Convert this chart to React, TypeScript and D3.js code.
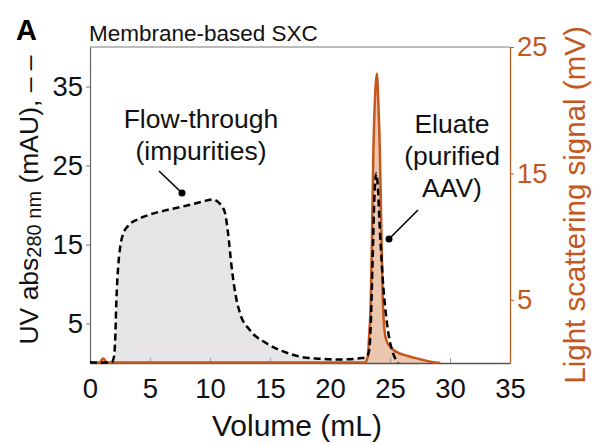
import { useEffect, useRef } from 'react';
import * as d3 from 'd3';

// UV absorbance at 280 nm (mAU), left axis
const uvVolume = [0, 1.0, 1.8, 2.0, 2.1, 2.2, 2.35, 2.5, 2.75, 3.2, 4, 5, 6.5, 8, 9.3, 10.2, 10.8, 11.25, 11.5, 11.8, 12.1, 12.5, 13.3, 14.7, 16.4, 17.5, 19, 21, 22.5, 23.0, 23.25, 23.4, 23.55, 23.7, 23.85, 24.0, 24.15, 24.3, 24.45, 24.6, 24.75, 24.95, 25.2, 25.5, 25.7];
const uvValue = [0.1, 0.05, 0.1, 0.8, 3, 8, 12.2, 14.5, 16.3, 17.4, 18.2, 18.8, 19.4, 19.9, 20.4, 20.7, 20.2, 19, 16.5, 12.2, 8.9, 6.3, 4.2, 2.5, 1.3, 0.8, 0.55, 0.45, 0.6, 0.7, 1.5, 5, 13, 21, 24, 22, 17, 13, 9.5, 7, 5, 3, 1.5, 0.4, 0];

// light scattering signal (mV), right axis
const lsVolume = [0.6, 0.8, 1.1, 1.4, 1.7, 5, 10, 15, 20, 22.9, 23.15, 23.25, 23.4, 23.5, 23.6, 23.75, 23.9, 24.05, 24.15, 24.25, 24.4, 24.55, 24.7, 25.0, 25.5, 26.5, 27.5, 28.5, 29.2];
const lsValue = [0.03, 0.05, 0.35, 0.05, 0.03, 0.03, 0.03, 0.03, 0.03, 0.03, 0.5, 2, 5, 10, 16, 21, 22.9, 20, 17, 12, 5, 2.5, 1.8, 1.3, 0.9, 0.55, 0.3, 0.08, 0];

const xTicks = [0, 5, 10, 15, 20, 25, 30, 35];
const uvTicks = [5, 15, 25, 35];
const lsTicks = [5, 15, 25];

const ORANGE = '#c4571d';
const FONT = '"Liberation Sans", Arial, Helvetica, sans-serif';

const App = () => {
  const svgRef = useRef<SVGSVGElement>(null);

  useEffect(() => {
    const svg = d3.select(svgRef.current);
    svg.selectAll('*').remove();

    const width = 597;
    const height = 445;
    const margin = { top: 47, right: 87, bottom: 82, left: 90 };
    const w = width - margin.left - margin.right;
    const h = height - margin.top - margin.bottom;

    const x = d3.scaleLinear().domain([0, 35]).range([0, w]);
    const yL = d3.scaleLinear().domain([0, 40]).range([h, 0]);
    const yR = d3.scaleLinear().domain([0, 25]).range([h, 0]);

    const uv = uvVolume.map((v, i) => [v, uvValue[i]] as [number, number]);
    const ls = lsVolume.map((v, i) => [v, lsValue[i]] as [number, number]);

    const g = svg.append('g').attr('transform', `translate(${margin.left},${margin.top})`);

    // fills
    const uvArea = d3.area<[number, number]>()
      .x(d => x(d[0])).y0(h).y1(d => yL(d[1]))
      .curve(d3.curveMonotoneX);
    g.append('path')
      .datum(uv.filter(d => d[0] <= 23.0))
      .attr('fill', '#e6e4e6')
      .attr('d', uvArea);

    const lsArea = d3.area<[number, number]>()
      .x(d => x(d[0])).y0(h).y1(d => yR(d[1]))
      .curve(d3.curveMonotoneX);
    g.append('path')
      .datum(ls.filter(d => d[0] >= 22.9))
      .attr('fill', '#ecc6ae')
      .attr('d', lsArea);

    // top frame
    g.append('line')
      .attr('x1', 0).attr('x2', w).attr('y1', 0).attr('y2', 0)
      .attr('stroke', '#7a7a7a').attr('stroke-width', 1.2);

    // axes
    const xAxis = g.append('g')
      .attr('transform', `translate(0,${h})`)
      .call(d3.axisBottom(x).tickValues(xTicks).tickSizeInner(-5).tickSizeOuter(0).tickPadding(15));
    xAxis.select('.domain').attr('stroke', '#555').attr('stroke-width', 1.3);
    xAxis.selectAll('.tick line').attr('stroke', '#999');

    const leftAxis = g.append('g')
      .call(d3.axisLeft(yL).tickValues(uvTicks).tickSizeInner(4).tickSizeOuter(0).tickPadding(3));
    leftAxis.select('.domain').attr('stroke', '#666').attr('stroke-width', 1.2);
    leftAxis.selectAll('.tick line').attr('stroke', '#777');

    const rightAxis = g.append('g')
      .attr('transform', `translate(${w},0)`)
      .call(d3.axisRight(yR).tickValues(lsTicks).tickSizeInner(4).tickSizeOuter(0).tickPadding(3));
    rightAxis.select('.domain').attr('stroke', ORANGE).attr('stroke-width', 1.2);
    rightAxis.selectAll('.tick line').attr('stroke', ORANGE);
    rightAxis.selectAll('.tick text').attr('fill', ORANGE);

    svg.selectAll('.tick text')
      .attr('font-family', FONT)
      .attr('font-size', 27.5);
    xAxis.selectAll('.tick text').attr('fill', '#111');
    leftAxis.selectAll('.tick text').attr('fill', '#111');

    // curves
    const lsLine = d3.line<[number, number]>()
      .x(d => x(d[0])).y(d => yR(d[1]))
      .curve(d3.curveMonotoneX);
    g.append('path')
      .datum(ls)
      .attr('fill', 'none')
      .attr('stroke', ORANGE)
      .attr('stroke-width', 2.5)
      .attr('d', lsLine);

    const uvLine = d3.line<[number, number]>()
      .x(d => x(d[0])).y(d => yL(d[1]))
      .curve(d3.curveMonotoneX);
    g.append('path')
      .datum(uv)
      .attr('fill', 'none')
      .attr('stroke', '#000')
      .attr('stroke-width', 2.5)
      .attr('stroke-dasharray', '7,4')
      .attr('d', uvLine);

    // annotations
    const note = (lines: string[], cx: number, y0: number) => {
      lines.forEach((t, i) => {
        svg.append('text')
          .attr('x', cx).attr('y', y0 + i * 32)
          .attr('text-anchor', 'middle')
          .attr('font-family', FONT).attr('font-size', 26.5)
          .attr('fill', '#111')
          .text(t);
      });
    };
    note(['Flow-through', '(impurities)'], 201, 128);
    note(['Eluate', '(purified', 'AAV)'], 452, 133);

    const pointer = (x1: number, y1: number, x2: number, y2: number) => {
      svg.append('line')
        .attr('x1', x1).attr('y1', y1).attr('x2', x2).attr('y2', y2)
        .attr('stroke', '#000').attr('stroke-width', 1.6);
      svg.append('circle').attr('cx', x2).attr('cy', y2).attr('r', 3.5).attr('fill', '#000');
    };
    pointer(159, 171, 182, 193);
    pointer(418, 210, 389, 239);

    // titles
    svg.append('text')
      .attr('x', 16).attr('y', 40)
      .attr('font-family', FONT).attr('font-size', 29).attr('font-weight', 'bold')
      .text('A');
    svg.append('text')
      .attr('x', 89).attr('y', 41)
      .attr('font-family', FONT).attr('font-size', 22.5)
      .attr('fill', '#111')
      .text('Membrane-based SXC');

    svg.append('text')
      .attr('x', margin.left + w / 2 - 3).attr('y', 436)
      .attr('text-anchor', 'middle')
      .attr('font-family', FONT).attr('font-size', 30)
      .attr('fill', '#111')
      .text('Volume (mL)');

    const yLabel = svg.append('text')
      .attr('transform', 'translate(38,200) rotate(-90)')
      .attr('text-anchor', 'middle')
      .attr('font-family', FONT).attr('font-size', 26.5)
      .attr('fill', '#111');
    yLabel.append('tspan').text('UV abs');
    yLabel.append('tspan').attr('font-size', 20).attr('dy', 3).text('280 nm');
    yLabel.append('tspan').attr('dy', -3).text(' (mAU), \u2013 \u2013');

    svg.append('text')
      .attr('transform', 'translate(585,205) rotate(-90)')
      .attr('text-anchor', 'middle')
      .attr('font-family', FONT).attr('font-size', 29.5)
      .attr('fill', ORANGE)
      .text('Light scattering signal (mV)');
  }, []);

  return (
    <svg ref={svgRef} width={597} height={445}
      style={{ position: 'absolute', left: 0, top: 0, background: '#fff' }} />
  );
};

export default App;
